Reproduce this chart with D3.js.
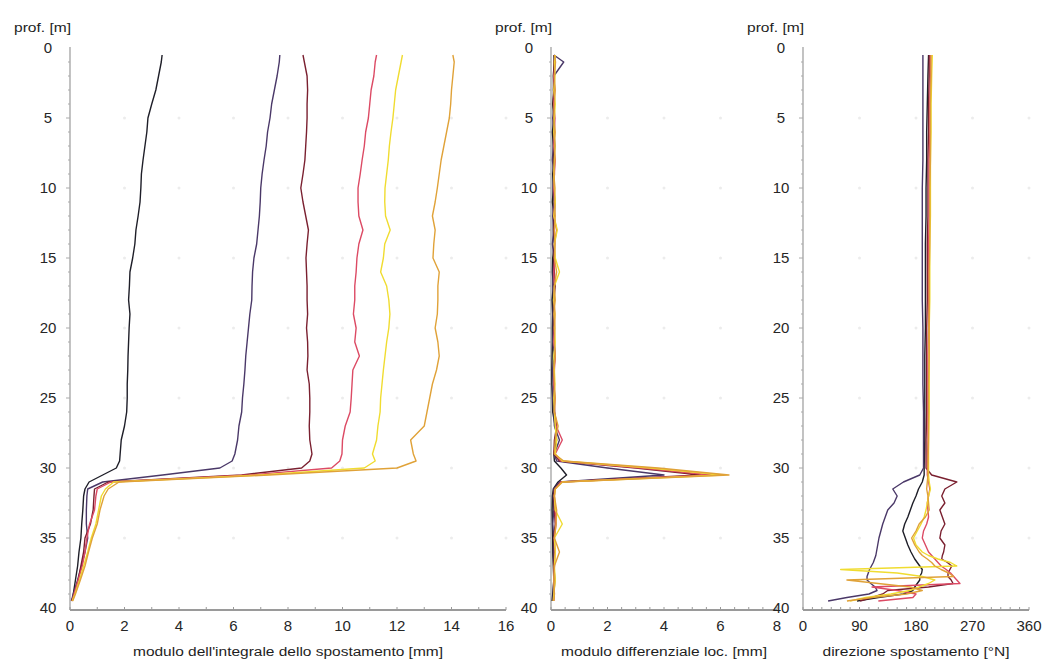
<!DOCTYPE html>
<html><head><meta charset="utf-8">
<script src="https://cdn.jsdelivr.net/npm/d3@7"></script>
<style>body{margin:0;background:#fff}svg{display:block}text{font-family:"Liberation Sans",Arial,sans-serif}</style>
</head><body><svg id="c" width="1046" height="659"></svg>
<script>
// depth grid (m) for panels 1 and 2
const depthA = [0.5,1,2,3,4,5,6,7,8,9,10,11,12,13,14,15,16,17,18,19,20,21,22,23,24,25,26,27,28,29,29.5,30,30.5,31,31.5,32,33,34,35,36,37,38,39,39.5];
// panel 1: modulo dell'integrale dello spostamento [mm]
const intS1 = [3.38,3.35,3.25,3.15,3.0,2.86,2.82,2.75,2.68,2.62, 2.6,2.57,2.5,2.42,2.38,2.3,2.2,2.18,2.15,2.2, 2.17,2.15,2.13,2.12,2.1,2.1,2.08,2.0,1.88,1.84, 1.82,1.7,1.2,0.7,0.55, 0.5,0.47,0.43,0.4,0.33,0.28,0.2,0.12, 0.08];
const intS2 = [7.7,7.68,7.6,7.5,7.4,7.34,7.25,7.2,7.12,7.05, 7.0,6.98,6.95,6.9,6.85,6.75,6.7,6.68,6.67,6.6, 6.55,6.5,6.45,6.42,6.38,6.33,6.3,6.2,6.15,6.05, 5.95,5.5,3.4,1.2,0.65, 0.62,0.6,0.6,0.65,0.55,0.42,0.28,0.12, 0.05];
const intS3 = [8.55,8.6,8.7,8.72,8.7,8.7,8.68,8.65,8.62,8.55, 8.47,8.55,8.65,8.75,8.7,8.66,8.68,8.7,8.7,8.72, 8.68,8.72,8.73,8.7,8.78,8.8,8.8,8.78,8.8,8.88, 8.8,8.5,6.3,1.4,0.9, 0.88,0.85,0.75,0.55,0.5,0.4,0.3,0.15, 0.06];
const intS4 = [11.25,11.2,11.15,11.05,11.0,10.95,10.85,10.8,10.72,10.65, 10.57,10.57,10.6,10.75,10.6,10.53,10.5,10.45,10.45,10.4, 10.5,10.45,10.62,10.38,10.35,10.32,10.28,10.1,10.0,9.98, 9.9,9.6,6.6,1.5,1.0, 0.95,0.9,0.72,0.62,0.55,0.45,0.3,0.15, 0.08];
const intS5 = [12.2,12.15,12.05,11.95,11.9,11.85,11.78,11.72,11.68,11.62, 11.56,11.55,11.58,11.75,11.55,11.5,11.4,11.62,11.7,11.74, 11.7,11.62,11.56,11.5,11.45,11.4,11.38,11.3,11.25,11.1, 11.2,10.8,7.0,1.6,1.3, 1.15,1.05,0.95,0.78,0.65,0.5,0.35,0.18, 0.08];
const intS6 = [14.05,14.1,14.05,14.0,13.97,13.92,13.82,13.72,13.62,13.55, 13.48,13.4,13.3,13.4,13.35,13.32,13.55,13.5,13.5,13.48, 13.4,13.5,13.55,13.45,13.3,13.2,13.1,13.0,12.5,12.6, 12.7,12.0,7.3,1.8,1.4, 1.25,1.1,1.0,0.82,0.68,0.55,0.38,0.2, 0.1];
// panel 2: modulo differenziale loc. [mm]
const diffS1 = [0.1,0.12,0.08,0.1,0.06,0.1,0.05,0.08,0.1,0.06, 0.08,0.05,0.1,0.08,0.12,0.06,0.05,0.08,0.04,0.06, 0.05,0.05,0.04,0.03,0.03,0.05,0.06,0.15,0.2,0.1, 0.12,0.35,0.55,0.25,0.08, 0.05,0.04,0.05,0.06,0.06,0.08,0.1,0.06, 0.04];
const diffS2 = [0.1,0.45,0.1,0.08,0.12,0.06,0.1,0.08,0.05,0.1, 0.07,0.1,0.06,0.09,0.05,0.1,0.08,0.06,0.1,0.07, 0.08,0.06,0.12,0.05,0.08,0.06,0.1,0.12,0.3,0.12, 0.2,2.0,4.0,0.3,0.1, 0.08,0.1,0.06,0.1,0.08,0.12,0.1,0.08, 0.06];
const diffS3 = [0.15,0.1,0.12,0.1,0.08,0.12,0.1,0.14,0.1,0.12, 0.1,0.14,0.12,0.1,0.13,0.1,0.12,0.15,0.1,0.12, 0.1,0.12,0.14,0.1,0.12,0.1,0.13,0.2,0.12,0.1, 0.3,3.0,5.3,0.35,0.12, 0.1,0.12,0.15,0.1,0.12,0.1,0.14,0.1, 0.08];
const diffS4 = [0.12,0.15,0.1,0.13,0.1,0.14,0.12,0.1,0.15,0.12, 0.1,0.13,0.1,0.2,0.12,0.14,0.1,0.12,0.1,0.14, 0.12,0.1,0.15,0.12,0.1,0.14,0.12,0.18,0.4,0.15, 0.35,3.2,5.7,0.35,0.15, 0.12,0.15,0.18,0.12,0.15,0.12,0.1,0.12, 0.1];
const diffS5 = [0.15,0.12,0.14,0.1,0.15,0.12,0.1,0.14,0.12,0.1, 0.12,0.15,0.1,0.22,0.12,0.15,0.3,0.12,0.1,0.14, 0.12,0.15,0.1,0.12,0.14,0.1,0.12,0.15,0.2,0.15, 0.4,3.5,6.1,0.4,0.15, 0.12,0.15,0.4,0.12,0.15,0.12,0.15,0.1, 0.08];
const diffS6 = [0.12,0.16,0.12,0.15,0.12,0.1,0.15,0.12,0.14,0.1, 0.14,0.12,0.15,0.12,0.14,0.12,0.2,0.12,0.15,0.1, 0.14,0.12,0.15,0.1,0.12,0.15,0.12,0.25,0.15,0.12, 0.45,3.8,6.3,0.4,0.15, 0.12,0.2,0.18,0.12,0.3,0.12,0.1,0.12, 0.1];
// depth grid (m) for panel 3
const depthC = [0.5,2,4,6,8,10,12,14,16,18,20,22,24,26,28,30, 30.5,31,31.5,32,32.5,33,33.5,34,34.5,35,35.5, 36,36.25,36.5,36.75,37,37.25,37.5,37.75,38,38.25,38.5,38.75,39,39.25,39.5];
// panel 3: direzione spostamento [°N]
const dirS1 = [200,199,198,197,197,196,196,195,195,195,195,194,194,194,194,193, 193,190,184,180,175,171,167,162,159,163,167, 172,175,178,182,186,190,189,186,186,182,178,175,160,120,86];
const dirS2 = [191,191,191,191,191,190,190,190,190,190,191,191,191,192,192,192, 186,160,143,150,145,135,131,127,124,121,119, 117,116,114,112,109,106,104,102,102,108,115,118,105,70,40];
const dirS3 = [201,201,200,200,199,199,199,198,198,198,197,197,197,197,196,196, 205,245,226,221,226,218,222,226,220,218,226, 224,222,221,230,237,234,231,231,236,239,200,135,127,110,91];
const dirS4 = [203,203,202,202,201,201,201,200,200,200,200,199,199,199,199,198, 198,200,202,200,198,199,200,197,192,190,195, 200,205,210,215,220,228,235,240,245,250,110,150,180,175,120];
const dirS5 = [206,205,204,204,203,203,203,202,202,202,201,201,201,201,200,200, 200,201,203,200,198,196,193,188,182,176,180, 190,200,215,235,245,60,150,190,210,200,185,170,140,100,75];
const dirS6 = [204,204,203,203,203,202,202,202,201,201,201,201,200,200,200,199, 199,198,197,199,200,201,195,185,180,173,178, 185,190,198,205,210,220,232,240,70,120,170,190,165,110,70];

const seriesColors = ["#1e1e28","#4a3868","#7a2030","#dc4a64","#f0dc30","#e0a238"];
const depthTicks = [0,5,10,15,20,25,30,35,40];
const xTicks1 = [0,2,4,6,8,10,12,14,16];
const xTicks2 = [0,2,4,6,8];
const xTicks3 = [0,90,180,270,360];
const yLabel = "prof. [m]";
const titles = ["modulo dell'integrale dello spostamento [mm]","modulo differenziale loc. [mm]","direzione spostamento [°N]"];

const svg = d3.select("#c");
const y = d3.scaleLinear().domain([0,40]).range([48,608]);
const axisY = 610;

const panels = [
  {x0:70, x1:506, dom:[0,16], ticks:xTicks1, minor:1, depth:depthA, series:[intS1,intS2,intS3,intS4,intS5,intS6], title:titles[0], tw:310},
  {x0:551, x1:777, dom:[0,8], ticks:xTicks2, minor:0.5, depth:depthA, series:[diffS1,diffS2,diffS3,diffS4,diffS5,diffS6], title:titles[1], tw:206},
  {x0:803, x1:1029, dom:[0,360], ticks:xTicks3, minor:15, depth:depthC, series:[dirS1,dirS2,dirS3,dirS4,dirS5,dirS6], title:titles[2], tw:187}
];

panels.forEach(p => {
  const x = d3.scaleLinear().domain(p.dom).range([p.x0, p.x1]);
  const g = svg.append("g");
  // faint grid marks
  p.ticks.slice(1).forEach(t => depthTicks.slice(1,-1).forEach(dv => {
    g.append("circle").attr("cx", x(t)).attr("cy", y(dv)).attr("r", 1.5).attr("fill", "#ececec");
  }));
  // y axis
  g.append("line").attr("x1", p.x0).attr("x2", p.x0).attr("y1", y(0)-1).attr("y2", axisY)
    .attr("stroke", "#9a9a9a").attr("stroke-width", 1.2);
  d3.range(1,40).forEach(dv => {
    const major = dv % 5 === 0;
    g.append("line").attr("x1", p.x0 - (major?4:2)).attr("x2", p.x0).attr("y1", y(dv)).attr("y2", y(dv))
      .attr("stroke", "#aaa").attr("stroke-width", 1);
  });
  depthTicks.forEach(dv => {
    g.append("text").attr("x", p.x0 - 22).attr("y", y(dv)).attr("dy", "0.36em")
      .attr("text-anchor", "middle").attr("font-size", 15).attr("fill", "#262626").text(dv);
  });
  g.append("text").attr("x", p.x0 + 1).attr("y", 32).attr("text-anchor", "end")
    .attr("font-size", 12.5).attr("fill", "#1e1e1e").attr("textLength", 57).attr("lengthAdjust", "spacingAndGlyphs").text(yLabel);
  // x axis
  g.append("line").attr("x1", p.x0).attr("x2", p.x1).attr("y1", axisY).attr("y2", axisY)
    .attr("stroke", "#9a9a9a").attr("stroke-width", 2.2);
  d3.range(p.dom[0], p.dom[1] + 1e-9, p.minor).forEach(t => {
    g.append("line").attr("x1", x(t)).attr("x2", x(t)).attr("y1", axisY - 3).attr("y2", axisY)
      .attr("stroke", "#9a9a9a").attr("stroke-width", 1);
  });
  p.ticks.forEach(t => {
    g.append("text").attr("x", x(t)).attr("y", 631).attr("text-anchor", "middle")
      .attr("font-size", 15).attr("fill", "#262626").text(t);
  });
  g.append("text").attr("x", (p.x0 + p.x1) / 2).attr("y", 656).attr("text-anchor", "middle")
    .attr("font-size", 12.5).attr("fill", "#1e1e1e").attr("textLength", p.tw).attr("lengthAdjust", "spacingAndGlyphs").text(p.title);
  // lines
  const line = d3.line().x(d => x(d[1])).y(d => y(d[0]));
  p.series.forEach((s, i) => {
    const pts = p.depth.map((dv, k) => [dv, s[k]]);
    g.append("path").attr("d", line(pts)).attr("fill", "none")
      .attr("stroke", seriesColors[i]).attr("stroke-width", 1.4).attr("stroke-linejoin", "round");
  });
});
</script></body></html>
